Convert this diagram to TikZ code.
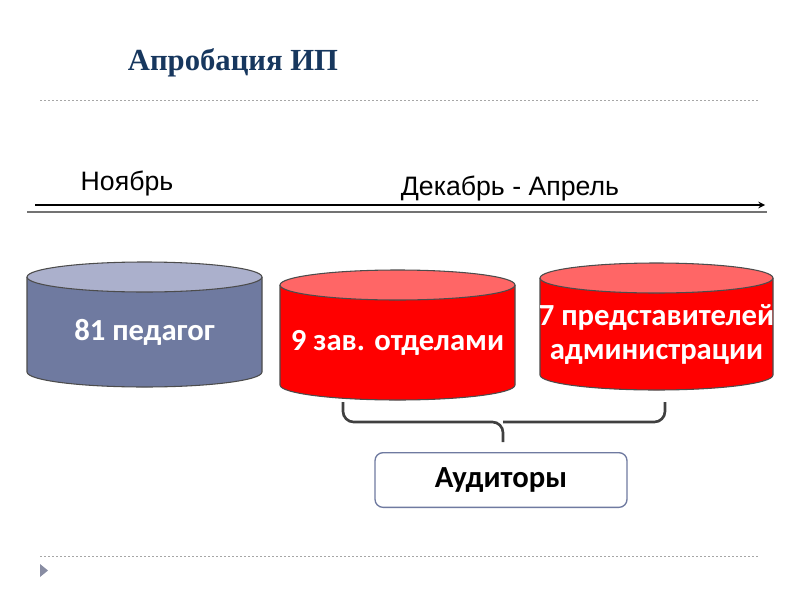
\documentclass[tikz,border=0pt]{standalone}
\usepackage{fontspec}
\setmainfont{Carlito}
\newfontfamily\ttlfont{Liberation Serif}
\newfontfamily\arial{Liberation Sans}
\usetikzlibrary{calc}
\definecolor{ttl}{HTML}{17375E}
\definecolor{blu}{HTML}{6F7AA0}
\definecolor{blut}{HTML}{ABB0CC}
\definecolor{rd}{HTML}{FF0000}
\definecolor{rdt}{HTML}{FF6666}
\tikzset{
 cyl/.style={draw=black!70, line width=0.8pt},
 dotl/.style={draw=black!35, dash pattern=on 1.5pt off 1.5pt, line width=0.7pt},
 lbl/.style={text=white, font=\bfseries\fontsize{23}{26}\selectfont, align=center}
}
\newcommand{\mycyl}[7]{% x1 x2 ytop ybot fill top name
 \fill[#5] (#1,#3) -- (#1,#4) arc[start angle=180,end angle=0,x radius={(#2-#1)/2},y radius=15] -- (#2,#3) -- cycle;
 \draw[cyl] (#1,#3) -- (#1,#4) arc[start angle=180,end angle=0,x radius={(#2-#1)/2},y radius=15] -- (#2,#3);
 \draw[cyl,fill=#6] ({(#1+#2)/2},#3) ellipse[x radius={(#2-#1)/2},y radius=15];
 \coordinate (#7) at ({(#1+#2)/2},{(#3+#4)/2+8});
}
\begin{document}
\begin{tikzpicture}[x=0.75pt,y=-0.75pt]
\useasboundingbox (0,0) rectangle (800,600);
\node (title) at (233,63) {\ttlfont\bfseries\color{ttl}\fontsize{23}{26}\selectfont Апробация ИП};
\coordinate (d1) at (40,100); \coordinate (d2) at (760,100);
\draw[dotl] (d1) -- (d2);
\coordinate (e1) at (40,556); \coordinate (e2) at (760,556);
\draw[dotl] (e1) -- (e2);
\fill[blut!80!black] (40,564) -- (40,577) -- (48,570.5) -- cycle;
\coordinate (a1) at (35,205); \coordinate (a2) at (765,205);
\draw[line width=1.2pt,-stealth] (a1) -- (a2);
\draw[line width=2.2pt,black!55] (27,212) -- (767,212);
\node (nov) at (127,183) {\arial\fontsize{20}{24}\selectfont Ноябрь};
\node (dec) at (510,188) {\arial\fontsize{20}{24}\selectfont Декабрь - Апрель};
\mycyl{27}{262}{277}{372}{blu}{blut}{c1}
\mycyl{280}{515}{285}{385}{rd}{rdt}{c2}
\mycyl{540}{773}{278}{375}{rd}{rdt}{c3}
\node[lbl] at (c1) {81 педагог};
\node[lbl] at (c2) {9 зав. отделами};
\node[lbl] at (c3) {7 представителей\\администрации};
\draw[line width=2pt,black!75,rounded corners=8pt] (343,402) -- (343,422) -- (503,422) -- (503,442);
\draw[line width=2pt,black!75,rounded corners=8pt] (665,402) -- (665,422) -- (503,422);
\node[draw=blu,line width=1pt,rounded corners=6pt,fill=white,minimum width=189pt,minimum height=41pt,font=\bfseries\fontsize{23}{26}\selectfont] (aud) at (501,480) {Аудиторы};
\end{tikzpicture}
\end{document}
